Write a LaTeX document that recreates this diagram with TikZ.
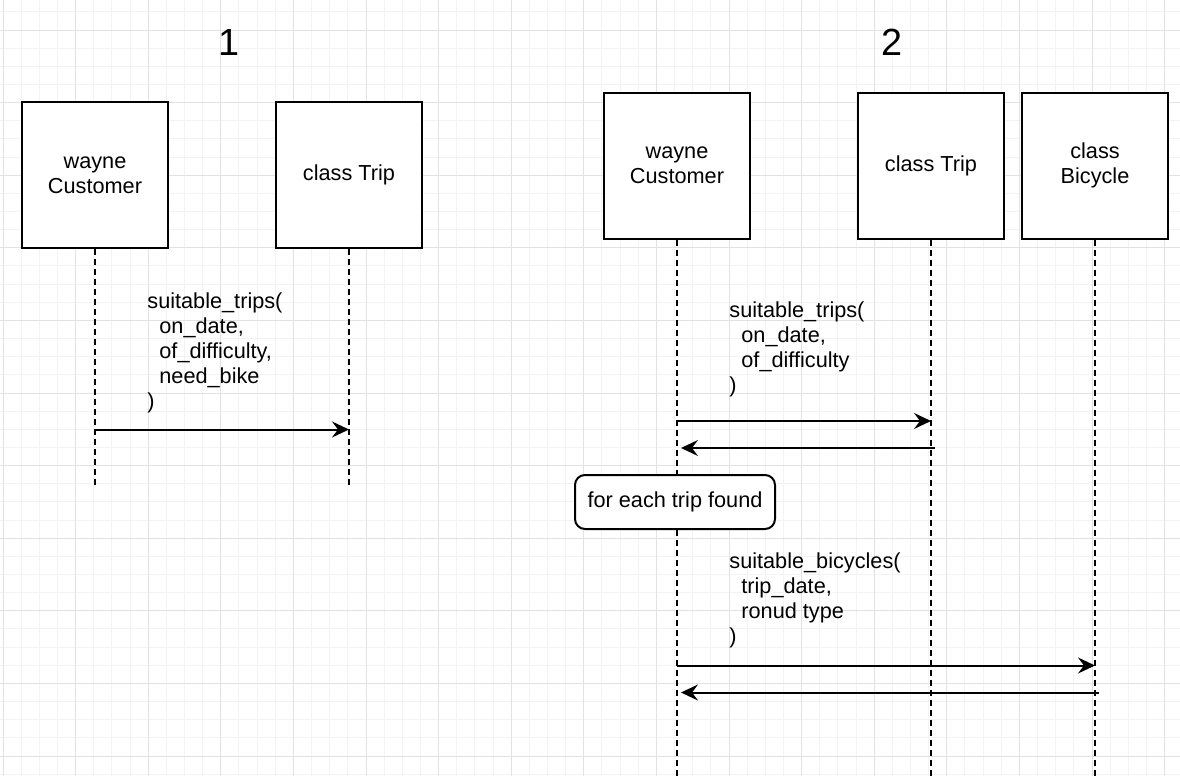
\documentclass[tikz,border=0pt]{standalone}
\usepackage{fontspec}
\setmainfont{Liberation Sans}
\usetikzlibrary{arrows.meta,positioning}
\definecolor{gridminor}{HTML}{F3F3F3}
\definecolor{gridmajor}{HTML}{E2E2E2}

\begin{document}
\begin{tikzpicture}[
  x=0.5pt, y=-0.5pt,
  font=\fontsize{10.85}{12.5}\selectfont,
  >={Stealth[length=8.5pt,width=8pt,inset=3pt]},
  lifebox/.style={
    draw,
    fill=white,
    line width=1pt,
    minimum width=73pt,
    minimum height=73pt,
    inner sep=2pt,
    align=center
  },
  lifeline/.style={line width=1pt, dash pattern=on 3pt off 2pt},
  msg/.style={->, line width=1pt},
  reply/.style={->, line width=1pt, shorten >=2pt, shorten <=-2pt},
  calltext/.style={align=left, inner sep=0pt, anchor=north west},
  loopnote/.style={
    draw,
    fill=white,
    rounded corners=5pt,
    line width=1pt,
    minimum width=100pt,
    minimum height=27pt
  },
  heading/.style={font=\fontsize{18.9}{22}\selectfont}
]

  \useasboundingbox (0,0) rectangle (1180,776);

  % Background Grid
  \fill[white] (0,0) rectangle (1180,776);
  \foreach \k in {0,...,64}
    \draw[gridminor, line width=0.5pt] ({3+18.15*\k},0) -- ({3+18.15*\k},776);
  \foreach \k in {-1,...,41}
    \draw[gridminor, line width=0.5pt] (0,{30+18.15*\k}) -- (1180,{30+18.15*\k});
  \foreach \k in {0,4,...,64}
    \draw[gridmajor, line width=0.5pt] ({3+18.15*\k},0) -- ({3+18.15*\k},776);
  \foreach \k in {0,4,...,40}
    \draw[gridmajor, line width=0.5pt] (0,{30+18.15*\k}) -- (1180,{30+18.15*\k});

  % PANEL 1: ONE CALL
  \node[heading] (title1) at (229,42) {1};

  \node[lifebox] (cust1) at (95,175) {wayne\\Customer};
  \node[lifebox, right=53pt of cust1] (trip1) {class Trip};

  \coordinate (end1) at (0,485);
  \draw[lifeline] (cust1.south) -- (cust1.south |- end1);
  \draw[lifeline] (trip1.south) -- (trip1.south |- end1);

  \node[calltext] (call1) at (147,292) {
    suitable\_trips(\\
    \hspace*{6pt}on\_date,\\
    \hspace*{6pt}of\_difficulty,\\
    \hspace*{6pt}need\_bike\\
    )
  };

  \coordinate (m1) at (0,429.5);
  \draw[msg] (cust1.south |- m1) -- (trip1.south |- m1);

  % PANEL 2: TRIP, THEN BICYCLE PER TRIP
  \node[heading] (title2) at (892,42) {2};

  \node[lifebox] (cust2) at (677,165.5) {wayne\\Customer};
  \node[lifebox, right=53pt of cust2] (trip2) {class Trip};
  \node[lifebox, right=8pt of trip2] (bike2) {class\\Bicycle};

  \coordinate (end2) at (0,776);
  \draw[lifeline] (cust2.south) -- (cust2.south |- end2);
  \draw[lifeline] (trip2.south) -- (trip2.south |- end2);
  \draw[lifeline] (bike2.south) -- (bike2.south |- end2);

  \node[calltext] (call2) at (729,301) {
    suitable\_trips(\\
    \hspace*{6pt}on\_date,\\
    \hspace*{6pt}of\_difficulty\\
    )
  };

  \coordinate (m2) at (0,421);
  \coordinate (r2) at (0,448);
  \draw[msg] (cust2.south |- m2) -- (trip2.south |- m2);
  \draw[reply] (trip2.south |- r2) -- (cust2.south |- r2);

  \node[loopnote] (loop2) at (675,502) {for each trip found};

  \node[calltext] (call3) at (729,552) {
    suitable\_bicycles(\\
    \hspace*{6pt}trip\_date,\\
    \hspace*{6pt}ronud type\\
    )
  };

  \coordinate (m3) at (0,665.5);
  \coordinate (r3) at (0,692.5);
  \draw[msg] (cust2.south |- m3) -- (bike2.south |- m3);
  \draw[reply] (bike2.south |- r3) -- (cust2.south |- r3);

\end{tikzpicture}
\end{document}
